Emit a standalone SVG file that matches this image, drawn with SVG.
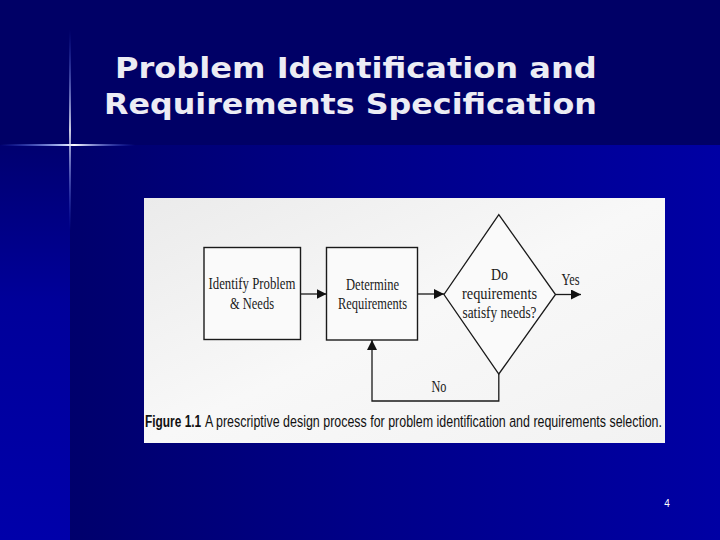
<svg xmlns="http://www.w3.org/2000/svg" width="720" height="540" viewBox="0 0 720 540">
<defs>
<linearGradient id="bgLow" x1="0" y1="0" x2="1" y2="0">
<stop offset="0" stop-color="#00006c"/>
<stop offset="0.45" stop-color="#000088"/>
<stop offset="1" stop-color="#0000a4"/>
</linearGradient>
<linearGradient id="strip" x1="0" y1="0" x2="0" y2="1">
<stop offset="0" stop-color="#000070"/>
<stop offset="0.4" stop-color="#00009a"/>
<stop offset="1" stop-color="#0000aa"/>
</linearGradient>
<linearGradient id="flareH" x1="0" y1="0" x2="1" y2="0">
<stop offset="0" stop-color="#4060ff" stop-opacity="0"/>
<stop offset="0.45" stop-color="#c0d0ff" stop-opacity="0.9"/>
<stop offset="0.55" stop-color="#ffffff" stop-opacity="1"/>
<stop offset="1" stop-color="#4060ff" stop-opacity="0"/>
</linearGradient>
<linearGradient id="flareV" x1="0" y1="0" x2="0" y2="1">
<stop offset="0" stop-color="#4060ff" stop-opacity="0"/>
<stop offset="0.5" stop-color="#ffffff" stop-opacity="1"/>
<stop offset="1" stop-color="#4060ff" stop-opacity="0"/>
</linearGradient>
<linearGradient id="panel" x1="0" y1="0" x2="1" y2="1">
<stop offset="0" stop-color="#ebebeb"/>
<stop offset="0.5" stop-color="#f8f8f8"/>
<stop offset="1" stop-color="#f2f2f2"/>
</linearGradient>
<marker id="arr" viewBox="0 0 10 10" refX="10" refY="5" markerWidth="10" markerHeight="10" markerUnits="userSpaceOnUse" orient="auto">
<path d="M0,0 L10,5 L0,10 Z" fill="#111"/>
</marker>
</defs>
<style>
.title{font-family:"DejaVu Sans",Verdana,sans-serif;font-weight:bold;font-size:29px;fill:#ececf4}
.lbl{font-family:"Liberation Serif","Times New Roman",serif;font-size:16.5px;fill:#1a1a1a}
.box{fill:#fafafa;stroke:#1a1a1a;stroke-width:1.4}
.conn{fill:none;stroke:#1a1a1a;stroke-width:1.3}
.cap{font-family:"Liberation Sans",Arial,sans-serif;font-size:16.5px;fill:#111}
</style>
<rect x="0" y="0" width="720" height="145" fill="#000066"/>
<rect x="70" y="145" width="650" height="395" fill="url(#bgLow)"/>
<rect x="0" y="145" width="70" height="395" fill="url(#strip)"/>
<rect x="0" y="144" width="135" height="2" fill="url(#flareH)"/>
<rect x="69.2" y="30" width="1.6" height="200" fill="url(#flareV)"/>
<text class="title" transform="translate(115,78) scale(1.1,1)" x="0" y="0" textLength="438" lengthAdjust="spacingAndGlyphs">Problem Identification and</text>
<text class="title" transform="translate(104,114) scale(1.1,1)" x="0" y="0" textLength="448" lengthAdjust="spacingAndGlyphs">Requirements Specification</text>
<rect x="144" y="198" width="521" height="245" fill="url(#panel)"/>
<g id="node-identify">
<rect class="box" x="204" y="247.5" width="96.5" height="92"/>
<text class="lbl" x="252" y="289" text-anchor="middle" textLength="87" lengthAdjust="spacingAndGlyphs">Identify Problem</text>
<text class="lbl" x="252" y="309" text-anchor="middle" textLength="44" lengthAdjust="spacingAndGlyphs">&amp; Needs</text>
</g>
<g id="node-determine">
<rect class="box" x="326.5" y="247.5" width="91" height="92.5"/>
<text class="lbl" x="372.5" y="289.5" text-anchor="middle" textLength="53" lengthAdjust="spacingAndGlyphs">Determine</text>
<text class="lbl" x="372.5" y="309" text-anchor="middle" textLength="69" lengthAdjust="spacingAndGlyphs">Requirements</text>
</g>
<g id="node-decision">
<polygon points="498.8,214.6 555.5,294.5 498.8,374 444,294.5" fill="#fafafa" stroke="#1a1a1a" stroke-width="1.3"/>
<text class="lbl" x="499.5" y="279.5" text-anchor="middle" textLength="17" lengthAdjust="spacingAndGlyphs">Do</text>
<text class="lbl" x="499.5" y="298.5" text-anchor="middle" textLength="75" lengthAdjust="spacingAndGlyphs">requirements</text>
<text class="lbl" x="499.5" y="318" text-anchor="middle" textLength="74" lengthAdjust="spacingAndGlyphs">satisfy needs?</text>
</g>
<g id="connectors">
<line class="conn" x1="300.5" y1="294" x2="326.5" y2="294" marker-end="url(#arr)"/>
<line class="conn" x1="417.5" y1="294" x2="444" y2="294" marker-end="url(#arr)"/>
<line class="conn" x1="555.5" y1="294.5" x2="581" y2="294.5" marker-end="url(#arr)"/>
<polyline class="conn" points="498.8,374 498.8,401 372,401 372,340" marker-end="url(#arr)"/>
<text class="lbl" x="570.5" y="284.5" text-anchor="middle" textLength="18" lengthAdjust="spacingAndGlyphs">Yes</text>
<text class="lbl" x="439" y="392" text-anchor="middle" textLength="15" lengthAdjust="spacingAndGlyphs">No</text>
</g>
<text class="cap" transform="translate(145,427) scale(0.73,1)" x="0" y="0" font-weight="bold" textLength="77" lengthAdjust="spacingAndGlyphs">Figure 1.1</text>
<text class="cap" transform="translate(205,427) scale(0.73,1)" x="0" y="0" textLength="626" lengthAdjust="spacingAndGlyphs">A prescriptive design process for problem identification and requirements selection.</text>
<text x="667" y="507" text-anchor="middle" font-family="Liberation Sans,Arial,sans-serif" font-size="10" fill="#ffffff">4</text>
</svg>
